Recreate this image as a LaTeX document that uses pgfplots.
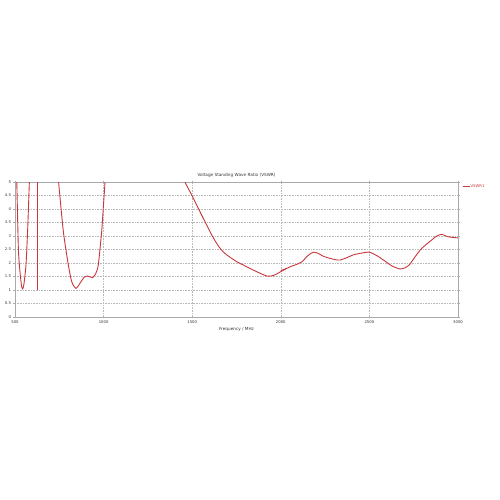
\documentclass[border=0pt]{standalone}
\usepackage{pgfplots}
\pgfplotsset{compat=1.18}
\usepackage{fontspec}
\setmainfont{DejaVu Sans}
\definecolor{vswr}{RGB}{200,55,60}
\definecolor{gridc}{RGB}{185,185,185}
\definecolor{axc}{RGB}{170,170,170}
\begin{document}
\begin{tikzpicture}
\path[use as bounding box] (0,0) rectangle (500pt,500pt);
\begin{axis}[
  at={(15pt,183pt)}, anchor=south west,
  scale only axis, width=443pt, height=135pt,
  xmin=500, xmax=3000, ymin=0, ymax=5,
  xtick={500,1000,1500,2000,2500,3000},
  ytick={0,0.5,1,1.5,2,2.5,3,3.5,4,4.5,5},
  yticklabels={0,0.5,1,1.5,2,2.5,3,3.5,4,4.5,5},
  xticklabels={500,1000,1500,2000,2500,3000},
  grid=major,
  major grid style={draw=gridc, dash pattern=on 0.8pt off 0.8pt, line width=0.35pt},
  axis line style={draw=axc, line width=0.6pt},
  tick style={draw=axc, line width=0.3pt},
  major tick length=1.5pt,
  tick align=outside,
  tick label style={font=\fontsize{3.8}{4}\selectfont, text=black!80},
  xticklabel style={yshift=1pt},
  yticklabel style={xshift=1pt},
  title={Voltage Standing Wave Ratio (VSWR)},
  title style={font=\fontsize{4.2}{5}\selectfont, yshift=-5pt, text=black!80},
  xlabel={Frequency / MHz},
  xlabel style={font=\fontsize{4.2}{5}\selectfont, yshift=3pt, text=black!80},
  clip=true,
  legend style={at={(1.008,0.99)}, anchor=north west, draw=none, fill=none,
    font=\fontsize{3.8}{5}\selectfont, text=vswr, inner sep=0.5pt,
    nodes={inner sep=0.5pt}},
  legend cell align=left,
  legend image code/.code={\draw[draw=vswr, line width=0.9pt] (0pt,0pt) -- (7pt,0pt);},
]
\addplot[draw=vswr, mark=none, line width=0.9pt, smooth, tension=0.4] coordinates {
 (2000,1.72)(2033,1.80)(2060,1.88)(2090,1.95)(2120,2.05)(2146,2.23)(2170,2.36)(2187,2.40)(2210,2.36)(2240,2.25)(2278,2.17)(2310,2.12)(2334,2.11)(2370,2.19)(2409,2.30)(2450,2.36)(2500,2.40)(2545,2.26)(2588,2.07)(2630,1.88)(2673,1.78)(2700,1.82)(2725,1.93)(2760,2.25)(2795,2.54)(2851,2.85)(2880,3.00)(2908,3.06)(2945,2.97)(3000,2.93)
};
\addlegendentry{VSWR1}
\addplot[draw=vswr, mark=none, line width=0.9pt, smooth, tension=0.4, forget plot] coordinates {
 (1440,5.3)(1459,5.0)(1497,4.52)(1553,3.78)(1610,3.04)(1638,2.73)(1665,2.48)(1695,2.30)(1751,2.05)(1790,1.92)(1826,1.80)(1870,1.66)(1920,1.52)(1945,1.52)(1967,1.56)(2000,1.68)(2033,1.80)
};
\addplot[draw=vswr, mark=none, line width=0.9pt, smooth, tension=0.4, forget plot] coordinates {
 (505,5.6)(510,5.0)(519,2.54)(528,1.68)(537,1.15)(543,1.04)(550,1.2)(562,1.93)(571,3.16)(581,5.0)(584,5.6)
};
\addplot[draw=vswr, mark=none, line width=0.9pt, forget plot] coordinates {(626,1.0)(626,5.2)};
\addplot[draw=vswr, mark=none, line width=0.9pt, smooth, tension=0.4, forget plot] coordinates {
 (740,5.6)(746,5.0)(773,3.16)(801,1.93)(820,1.31)(844,1.06)(870,1.28)(890,1.47)(908,1.52)(925,1.48)(938,1.46)(955,1.60)(970,1.93)(989,3.16)(998,4.02)(1008,5.0)(1011,5.5)
};
\end{axis}
\end{tikzpicture}
\end{document}
